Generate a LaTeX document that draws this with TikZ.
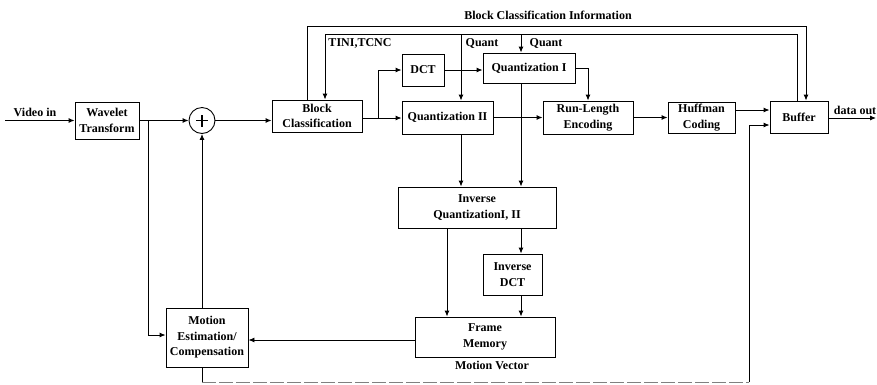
\documentclass[tikz,border=0pt]{standalone}
\usepackage{fontspec}
\setmainfont{Liberation Serif}
\usetikzlibrary{arrows.meta}
\begin{document}
\begin{tikzpicture}[x=1pt,y=-1pt, line width=0.9pt,
  box/.style={draw, inner sep=0pt, align=center, font=\bfseries\fontsize{12}{15.5}\selectfont},
  lbl/.style={inner sep=0pt, font=\bfseries\fontsize{12}{14}\selectfont},
  >={Latex[length=6pt,width=5pt]}]
\useasboundingbox (0,0) rectangle (877,384);
% boxes
\node[box, minimum width=64pt, minimum height=37pt] (wav) at (107,120.5) {Wavelet\\Transform};
\node[draw, circle, minimum size=26pt, inner sep=0pt] (plus) at (202,120.5) {};
\draw[line width=1.6pt] ([xshift=-6pt]plus.center) -- ([xshift=6pt]plus.center);
\draw[line width=1.6pt] ([yshift=-6pt]plus.center) -- ([yshift=6pt]plus.center);
\node[box, minimum width=90pt, minimum height=32pt] (bc) at (317,116) {Block\\Classification};
\node[box, minimum width=42pt, minimum height=32pt] (dct) at (423,70) {DCT};
\node[box, minimum width=92pt, minimum height=30pt] (q1) at (529,68) {Quantization I};
\node[box, minimum width=91pt, minimum height=33pt] (q2) at (447.5,117.5) {Quantization II};
\node[box, minimum width=90pt, minimum height=33pt] (rle) at (588,117.5) {Run-Length\\Encoding};
\node[box, minimum width=67pt, minimum height=31pt] (huf) at (701.5,117.5) {Huffman\\Coding};
\node[box, minimum width=58pt, minimum height=32pt] (buf) at (799,117) {Buffer};
\node[box, minimum width=158pt, minimum height=41pt] (iq) at (477,207.5) {Inverse\\QuantizationI, II};
\node[box, minimum width=59pt, minimum height=41pt] (idct) at (512.5,274.5) {Inverse\\DCT};
\node[box, minimum width=140pt, minimum height=40pt] (fm) at (485,337) {Frame\\Memory};
\node[box, minimum width=82pt, minimum height=59pt] (me) at (207,337.5) {Motion\\Estimation/\\Compensation};
% labels
\node[lbl] (tvin) at (35,112) {Video in};
\node[lbl] (tdout) at (855,110) {data out};
\node[lbl] (tbci) at (548,15) {Block Classification Information};
\node[lbl] (ttini) at (360,43) {TINI,TCNC};
\node[lbl] (tq2) at (482,43) {Quant};
\node[lbl] (tq1) at (546,43) {Quant};
\node[lbl] (tmv) at (492,365) {Motion Vector};
% coordinates
\coordinate (vin) at (5,120.5);
\coordinate (dout) at (876,118);
\coordinate (br1) at (148,120.5);
\coordinate (mel) at (148,335);
\coordinate (br2) at (378,118);
\coordinate (hb) at (750,110);
\coordinate (outerL) at (307,26);
\coordinate (outerR) at (806,26);
\coordinate (innerL) at (325,34);
\coordinate (innerR) at (797,34);
\coordinate (xq2) at (461,34);
\coordinate (xq1) at (521,34);
\coordinate (xiq) at (447,0);
\coordinate (yfm) at (0,340);
\coordinate (mvL) at (202,382);
\coordinate (mvR) at (749,382);
\coordinate (bi) at (749,125);
% connectors
\draw[->] (vin) -- (vin -| wav.west);
\draw[->] (wav.east |- plus) -- (plus.west);
\draw[->] (br1) -- (mel) -- (mel -| me.west);
\draw[->] (plus.south |- me.north) -- (plus.south);
\draw[->] (plus.east) -- (plus.east -| bc.west);
\draw[->] (bc.east |- br2) -- (br2 -| q2.west);
\draw[->] (br2) |- (dct.west);
\draw[->] (dct.east) -- (dct.east -| q1.west);
\draw[->] (q1.east) -| (rle.north);
\draw[->] (q2.east) -- (q2.east -| rle.west);
\draw[->] (rle.east) -- (rle.east -| huf.west);
\draw[->] (huf.east |- hb) -- (hb -| buf.west);
\draw[->] (buf.east |- dout) -- (dout);
\draw[->] (bc.north -| outerL) -- (outerL) -- (outerR) -- (outerR |- buf.north);
\draw[->] (buf.north -| innerR) -- (innerR) -- (innerL) -- (innerL |- bc.north);
\draw[->] (xq2) -- (xq2 |- q2.north);
\draw[->] (xq1) -- (xq1 |- q1.north);
\draw[->] (xq2 |- q2.south) -- (xq2 |- iq.north);
\draw[->] (xq1 |- q1.south) -- (xq1 |- iq.north);
\draw[->] (xiq |- iq.south) -- (xiq |- fm.north);
\draw[->] (xq1 |- iq.south) -- (xq1 |- idct.north);
\draw[->] (xq1 |- idct.south) -- (xq1 |- fm.north);
\draw[->] (fm.west |- yfm) -- (me.east |- yfm);
\draw (me.south -| mvL) -- (mvL);
\draw[gray, dash pattern=on 14pt off 3pt] (mvL) -- (mvR);
\draw[->] (mvR) -- (bi) -- (bi -| buf.west);
\end{tikzpicture}
\end{document}
